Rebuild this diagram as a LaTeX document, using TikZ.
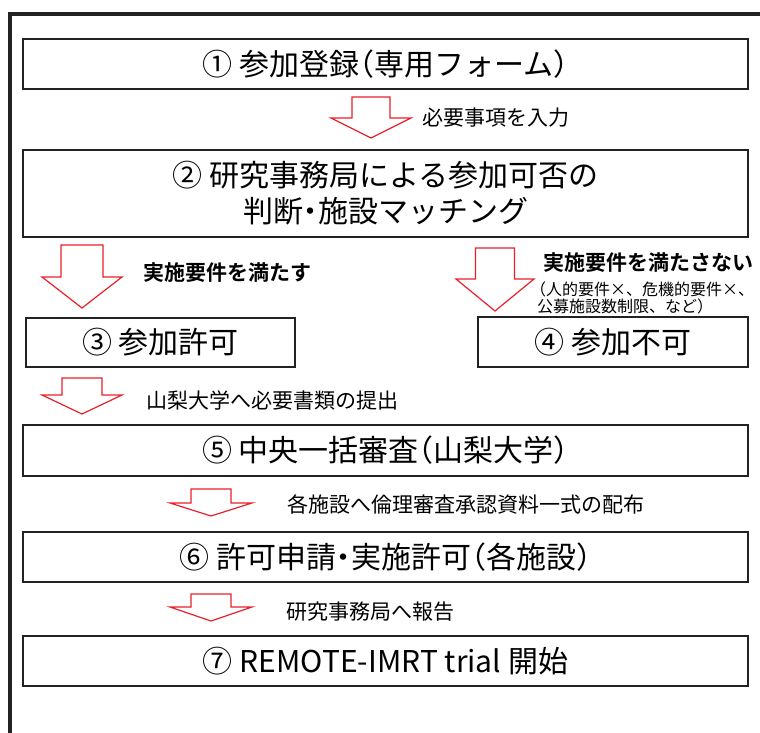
\documentclass[tikz,border=0pt]{standalone}
\usepackage{fontspec}
\setmainfont{Noto Sans CJK JP}[BoldFont={Noto Sans CJK JP Bold}]
\newfontfamily\boxfont{Noto Sans CJK JP}[RawFeature=+halt]
\definecolor{frameblack}{HTML}{222222}
\definecolor{arrowred}{HTML}{E8202A}
\tikzset{
  box/.style={draw=frameblack, line width=2pt, fill=white, inner sep=0pt, align=center,
    font=\boxfont\fontsize{30}{36}\selectfont},
  lbl/.style={anchor=west, inner sep=0pt, font=\fontsize{21}{24}\selectfont},
  blbl/.style={anchor=west, inner sep=0pt, font=\fontsize{21}{24}\selectfont\bfseries},
  slbl/.style={anchor=west, inner sep=0pt, font=\fontsize{16}{18}\selectfont},
  redarrow/.style={draw=arrowred, line width=1.2pt, fill=white, line join=miter},
}
% \blockarr{cx}{top}{base}{tip}{shaft half width}{head half width}
\newcommand{\blockarr}[6]{%
  \draw[redarrow] ({#1-#5},#2) -- ({#1+#5},#2) -- ({#1+#5},#3) -- ({#1+#6},#3)
    -- (#1,#4) -- ({#1-#6},#3) -- ({#1-#5},#3) -- cycle;}
\begin{document}
\begin{tikzpicture}[x=1pt, y=-1pt]
\useasboundingbox (0,0) rectangle (760,733);
\clip (0,0) rectangle (760,733);
% outer frame (extends past the right and bottom edges)
\draw[frameblack, line width=4pt] (10,760) -- (10,14) -- (790,14);

% boxes
\node[box, minimum width=725pt, minimum height=50pt] (b1) at (385.5,64)
  {① 参加登録（専用フォーム）};
\node[box, minimum width=725pt, minimum height=87pt] (b2) at (385.5,193.5)
  {② 研究事務局による参加可否の\\判断・施設マッチング};
\node[box, minimum width=269pt, minimum height=49pt] (b3) at (160.5,342.5)
  {③ 参加許可};
\node[box, minimum width=270pt, minimum height=50pt] (b4) at (613,342)
  {④ 参加不可};
\node[box, minimum width=725pt, minimum height=51pt] (b5) at (385.5,450.5)
  {⑤ 中央一括審査（山梨大学）};
\node[box, minimum width=725pt, minimum height=50pt] (b6) at (385.5,557)
  {⑥ 許可申請・実施許可（各施設）};
\node[box, minimum width=725pt, minimum height=50pt] (b7) at (385.5,661)
  {⑦ REMOTE-IMRT trial 開始};

% block arrows
\blockarr{371}{97}{118}{138}{19}{40}
\blockarr{82}{245}{277}{308}{21}{40}
\blockarr{495}{248}{279}{311}{19.5}{39}
\blockarr{82}{378}{395}{414}{20}{40}
\blockarr{211}{489}{503}{516}{20}{41}
\blockarr{211}{594}{607}{621}{20}{41}

% labels
\node[lbl] (l1) at (422,118) {必要事項を入力};
\node[blbl] (l2) at (143,273) {実施要件を満たす};
\node[blbl] (l3) at (543,263) {実施要件を満たさない};
\node[slbl] (l3a) at (530,289) {（人的要件×、危機的要件×、};
\node[slbl] (l3b) at (537,306) {公募施設数制限、など）};
\node[lbl] (l4) at (146,400) {山梨大学へ必要書類の提出};
\node[lbl] (l5) at (287,504) {各施設へ倫理審査承認資料一式の配布};
\node[lbl] (l6) at (286,612) {研究事務局へ報告};
\end{tikzpicture}
\end{document}
